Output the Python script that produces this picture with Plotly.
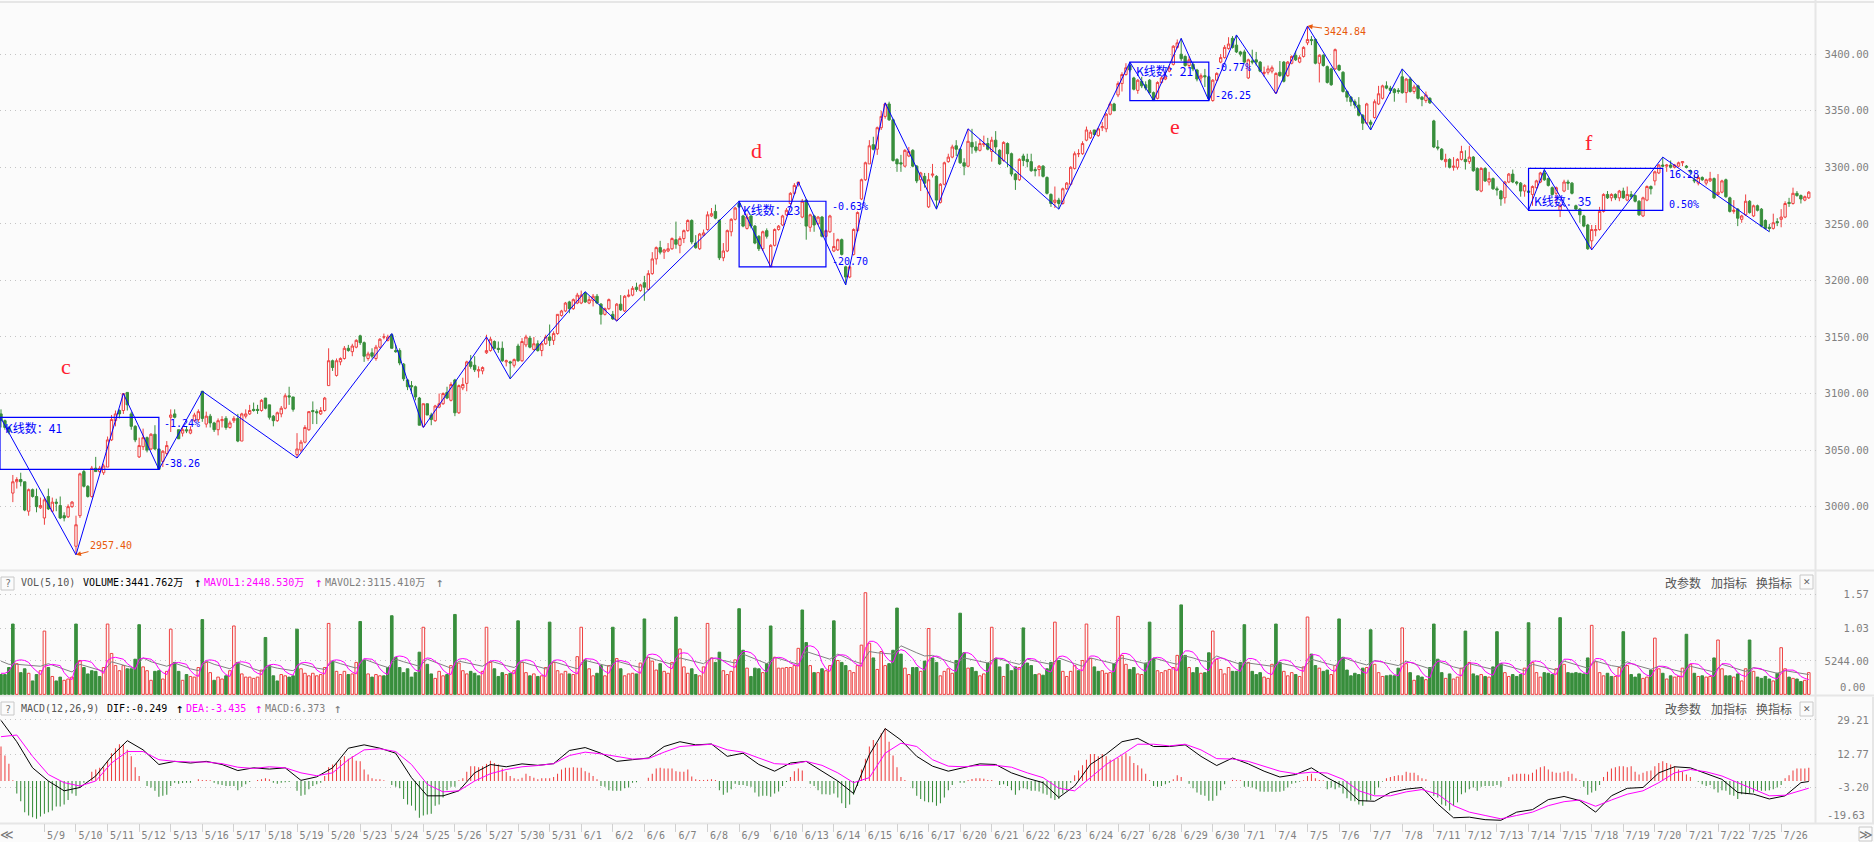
import plotly.graph_objects as go

W, H = 1874, 842
BG = "#fbfbfb"
RED = "#ee4040"
GREEN = "#388e3c"
BLUE = "#0000ff"
ORANGE = "#e8590c"
MONO = "DejaVu Sans Mono, Noto Sans CJK SC"
CJK = "Noto Sans CJK SC"

# first bar of each trading day falls on these labels
dates = ["5/9","5/10","5/11","5/12","5/13","5/16","5/17","5/18","5/19","5/20","5/23","5/24","5/25","5/26","5/27","5/30","5/31",
         "6/1","6/2","6/6","6/7","6/8","6/9","6/10","6/13","6/14","6/15","6/16","6/17","6/20","6/21","6/22","6/23","6/24","6/27","6/28","6/29","6/30",
         "7/1","7/4","7/5","7/6","7/7","7/8","7/11","7/12","7/13","7/14","7/15","7/18","7/19","7/20","7/21","7/22","7/25","7/26"]

opens = [3082,3076,3070,3012,3022,3024,3022,2996,3015,3009,
2999,2990,3009,2996,3004,3001,2992,2991,3000,2965,
2992,3031,3018,3009,3034,3031,3030,3035,3059,3076,
3085,3085,3101,3082,3071,3044,3053,3061,3051,3064,
3051,3040,3047,3079,3082,3068,3065,3068,3065,3076,
3077,3102,3073,3080,3074,3068,3076,3078,3070,3076,
3078,3058,3080,3082,3086,3086,3085,3096,3090,3080,
3076,3082,3087,3098,3097,3046,3050,3057,3068,3085,
3084,3082,3085,3107,3129,3116,3128,3131,3140,3137,
3141,3151,3145,3131,3136,3131,3141,3150,3147,3152,
3138,3138,3126,3112,3107,3106,3096,3071,3091,3081,
3076,3088,3091,3101,3094,3112,3083,3105,3109,3128,
3125,3120,3120,3136,3138,3146,3140,3140,3128,3128,
3125,3142,3129,3143,3149,3139,3144,3138,3144,3150,
3147,3153,3169,3173,3181,3175,3180,3180,3189,3180,
3182,3186,3179,3170,3175,3170,3165,3179,3173,3186,
3187,3194,3191,3198,3192,3206,3219,3229,3225,3226,
3228,3236,3231,3237,3244,3253,3233,3228,3240,3245,
3257,3261,3253,3220,3226,3243,3254,3268,3257,3246,
3257,3248,3239,3228,3244,3212,3231,3245,3249,3258,
3268,3277,3285,3256,3271,3247,3257,3250,3256,3239,
3243,3226,3227,3236,3212,3203,3223,3244,3272,3289,
3303,3320,3316,3335,3345,3356,3342,3307,3304,3301,
3310,3315,3301,3289,3292,3265,3293,3292,3269,3285,
3305,3309,3319,3316,3304,3301,3322,3318,3315,3320,
3321,3314,3324,3315,3306,3321,3312,3294,3289,3310,
3307,3305,3298,3298,3301,3291,3276,3269,3271,3268,
3281,3285,3299,3312,3312,3324,3326,3333,3328,3335,
3334,3347,3356,3364,3374,3382,3390,3379,3368,3376,
3373,3377,3366,3361,3375,3378,3385,3391,3406,3400,
3398,3390,3391,3386,3379,3381,3380,3359,3377,3393,
3397,3405,3414,3408,3402,3402,3379,3394,3395,3393,
3383,3384,3385,3366,3384,3393,3381,3392,3399,3393,
3398,3410,3413,3413,3392,3399,3389,3387,3387,3390,
3384,3367,3362,3358,3355,3346,3339,3340,3344,3356,
3361,3372,3370,3369,3368,3380,3366,3378,3367,3372,
3362,3359,3361,3341,3318,3316,3305,3307,3300,3300,
3307,3307,3305,3309,3299,3279,3299,3287,3290,3281,
3279,3273,3287,3294,3287,3286,3279,3279,3276,3282,
3287,3295,3290,3282,3277,3262,3279,3287,3286,3266,
3263,3257,3249,3235,3244,3245,3261,3276,3273,3276,
3273,3279,3271,3276,3275,3270,3257,3271,3283,3288,
3295,3302,3301,3302,3300,3301,3304,3301,3297,3289,
3286,3291,3286,3288,3290,3276,3278,3289,3273,3261,
3263,3254,3258,3270,3257,3266,3263,3253,3247,3246,
3252,3254,3256,3269,3268,3277,3275,3271,3273]

closes = [3076,3070,3066,3022,3024,3022,2997,3015,3009,3000,
3001,3006,2998,3004,3003,2990,2990,3000,3004,2984,
3029,3018,3009,3034,3031,3034,3036,3059,3077,3082,
3082,3100,3090,3071,3059,3054,3061,3050,3064,3051,
3033,3049,3054,3081,3079,3060,3068,3067,3068,3081,
3084,3078,3080,3074,3068,3076,3077,3070,3074,3078,
3058,3082,3082,3085,3085,3085,3094,3087,3079,3076,
3083,3087,3098,3097,3086,3051,3057,3070,3084,3084,
3083,3085,3096,3129,3123,3129,3131,3140,3138,3142,
3147,3145,3133,3135,3133,3141,3148,3150,3150,3140,
3137,3127,3113,3106,3106,3097,3072,3091,3081,3077,
3089,3091,3100,3096,3108,3083,3107,3108,3128,3124,
3121,3121,3123,3138,3148,3140,3139,3129,3129,3127,
3130,3129,3146,3150,3141,3144,3138,3144,3150,3147,
3153,3170,3173,3180,3175,3183,3187,3187,3181,3183,
3186,3180,3170,3175,3183,3166,3179,3174,3186,3187,
3193,3192,3196,3194,3206,3219,3229,3225,3227,3228,
3237,3232,3237,3244,3253,3234,3229,3241,3242,3258,
3259,3255,3220,3226,3244,3254,3264,3265,3248,3256,
3248,3233,3228,3243,3239,3231,3245,3248,3257,3262,
3277,3284,3287,3270,3248,3258,3249,3256,3239,3244,
3257,3230,3236,3223,3203,3212,3245,3260,3289,3304,
3319,3316,3335,3345,3356,3342,3306,3303,3303,3315,
3314,3301,3288,3295,3286,3289,3294,3271,3285,3304,
3309,3318,3316,3304,3301,3323,3318,3315,3321,3321,
3316,3324,3318,3303,3322,3312,3294,3289,3307,3306,
3305,3297,3297,3301,3292,3277,3268,3271,3268,3281,
3286,3300,3312,3312,3321,3333,3331,3329,3334,3336,
3347,3356,3350,3374,3382,3388,3386,3369,3377,3372,
3370,3366,3359,3375,3379,3380,3388,3407,3410,3396,
3390,3395,3387,3378,3381,3380,3361,3377,3383,3397,
3406,3409,3406,3402,3400,3393,3395,3393,3393,3385,
3384,3387,3388,3383,3381,3376,3393,3398,3395,3397,
3406,3413,3412,3392,3399,3390,3375,3373,3404,3386,
3367,3362,3358,3355,3346,3339,3356,3338,3358,3365,
3372,3370,3368,3366,3367,3366,3378,3367,3371,3361,
3360,3364,3357,3318,3317,3307,3307,3300,3301,3307,
3314,3305,3309,3297,3280,3299,3288,3290,3281,3280,
3272,3287,3294,3287,3286,3279,3284,3278,3283,3288,
3295,3289,3284,3276,3282,3266,3287,3286,3277,3263,
3258,3248,3228,3245,3245,3261,3276,3273,3276,3273,
3279,3273,3276,3274,3270,3258,3273,3283,3281,3296,
3302,3301,3302,3300,3302,3304,3305,3300,3296,3288,
3291,3289,3289,3290,3273,3278,3288,3274,3261,3262,
3255,3257,3270,3260,3266,3262,3248,3246,3246,3251,
3251,3256,3268,3268,3277,3275,3272,3274,3278]

highs = [3086,3077,3071,3028,3026,3030,3022,3016,3016,3016,
3008,3008,3016,3008,3007,3009,2995,3002,3005,2992,
3030,3033,3019,3036,3044,3036,3038,3062,3081,3085,
3086,3100,3101,3084,3072,3061,3069,3062,3065,3072,
3051,3050,3058,3086,3086,3068,3071,3071,3071,3083,
3086,3102,3084,3082,3075,3078,3080,3080,3076,3080,
3082,3083,3086,3090,3092,3090,3095,3096,3090,3081,
3084,3089,3100,3106,3097,3065,3059,3072,3084,3093,
3086,3088,3097,3140,3130,3131,3132,3142,3143,3144,
3148,3152,3146,3137,3140,3143,3149,3153,3152,3153,
3143,3140,3127,3113,3111,3107,3097,3091,3091,3083,
3090,3100,3101,3106,3110,3113,3108,3114,3129,3134,
3133,3124,3124,3152,3150,3147,3146,3146,3130,3129,
3131,3144,3149,3152,3151,3150,3147,3146,3152,3161,
3155,3170,3174,3181,3182,3184,3189,3191,3190,3186,
3188,3188,3180,3176,3184,3173,3180,3187,3187,3192,
3195,3198,3197,3204,3209,3225,3230,3235,3228,3233,
3238,3252,3239,3245,3254,3254,3240,3242,3245,3261,
3264,3267,3254,3233,3245,3255,3265,3270,3258,3259,
3258,3249,3240,3244,3246,3232,3246,3249,3258,3264,
3278,3286,3287,3272,3272,3259,3258,3257,3257,3245,
3258,3242,3237,3237,3213,3213,3246,3261,3290,3305,
3324,3327,3336,3350,3357,3358,3343,3308,3311,3316,
3318,3316,3302,3296,3295,3295,3303,3293,3286,3305,
3312,3320,3324,3317,3308,3334,3334,3323,3325,3328,
3326,3327,3332,3316,3323,3322,3313,3295,3308,3312,
3312,3312,3300,3302,3302,3292,3277,3283,3273,3282,
3287,3301,3314,3316,3323,3336,3333,3333,3335,3340,
3348,3358,3357,3376,3384,3392,3393,3380,3378,3380,
3376,3378,3367,3376,3381,3384,3390,3408,3413,3414,
3399,3398,3393,3387,3383,3387,3381,3378,3384,3400,
3408,3415,3416,3417,3403,3404,3396,3404,3402,3394,
3389,3390,3390,3384,3394,3394,3394,3399,3403,3399,
3407,3424.84,3416,3414,3400,3400,3390,3388,3405,3391,
3385,3368,3363,3360,3362,3347,3357,3342,3360,3372,
3373,3376,3372,3370,3370,3387,3379,3380,3373,3373,
3363,3367,3362,3342,3324,3317,3312,3308,3309,3308,
3319,3315,3319,3310,3300,3300,3300,3296,3291,3283,
3280,3288,3295,3298,3288,3287,3285,3289,3284,3289,
3296,3298,3291,3283,3283,3268,3289,3289,3287,3267,
3264,3258,3250,3249,3249,3265,3277,3279,3277,3277,
3280,3282,3283,3279,3276,3271,3274,3284,3284,3297,
3303,3309,3303,3306,3303,3305,3305,3302,3298,3293,
3293,3292,3290,3296,3291,3294,3289,3290,3274,3271,
3264,3258,3276,3271,3267,3267,3264,3254,3250,3259,
3255,3263,3270,3273,3282,3279,3276,3275,3279]

lows = [3070,3068,3064,3004,3016,3018,2996,2992,3008,2995,
2998,2984,2997,2995,2996,2989,2987,2990,2999,2957.4,
2990,3017,3008,3008,3031,3030,3028,3035,3058,3071,
3078,3082,3085,3068,3057,3043,3050,3048,3050,3050,
3033,3035,3045,3066,3078,3060,3062,3065,3064,3075,
3075,3075,3070,3070,3066,3063,3070,3068,3069,3074,
3057,3058,3078,3081,3084,3082,3084,3086,3077,3071,
3075,3079,3086,3090,3084,3043,3048,3056,3067,3073,
3073,3081,3084,3107,3120,3115,3125,3130,3137,3133,
3140,3143,3128,3129,3131,3129,3140,3148,3146,3140,
3136,3125,3111,3103,3100,3094,3072,3070,3081,3072,
3075,3087,3090,3095,3093,3080,3082,3103,3102,3122,
3119,3114,3117,3135,3137,3139,3136,3128,3124,3113,
3123,3128,3128,3141,3140,3138,3137,3133,3143,3142,
3143,3152,3168,3172,3171,3174,3179,3179,3180,3179,
3177,3179,3161,3169,3174,3165,3164,3173,3172,3185,
3186,3190,3190,3182,3191,3205,3214,3223,3219,3225,
3227,3228,3224,3233,3243,3232,3228,3227,3239,3244,
3256,3254,3218,3217,3225,3239,3253,3264,3247,3245,
3246,3232,3226,3226,3237,3212,3230,3244,3248,3257,
3267,3276,3283,3255,3236,3243,3243,3249,3238,3238,
3242,3225,3226,3222,3196,3202,3222,3243,3271,3288,
3303,3315,3311,3333,3343,3341,3305,3296,3296,3300,
3309,3300,3286,3279,3282,3264,3291,3263,3268,3284,
3304,3308,3310,3303,3293,3300,3312,3313,3314,3318,
3315,3305,3312,3302,3305,3300,3292,3280,3288,3301,
3300,3296,3292,3292,3291,3276,3265,3264,3263,3267,
3280,3284,3298,3309,3311,3323,3325,3328,3327,3332,
3331,3346,3350,3362,3367,3381,3384,3368,3365,3370,
3368,3365,3359,3360,3374,3377,3384,3390,3405,3394,
3389,3388,3385,3376,3375,3371,3359,3358,3376,3392,
3396,3404,3405,3401,3398,3392,3378,3391,3390,3384,
3380,3382,3383,3365,3380,3375,3380,3391,3394,3392,
3397,3408,3408,3391,3375,3389,3374,3372,3386,3385,
3366,3358,3354,3352,3345,3333,3338,3333,3343,3355,
3360,3369,3365,3358,3365,3365,3357,3366,3365,3360,
3354,3357,3356,3317,3315,3306,3300,3299,3297,3298,
3306,3298,3303,3296,3279,3278,3287,3284,3280,3275,
3266,3268,3286,3286,3284,3274,3274,3264,3266,3281,
3286,3288,3283,3275,3268,3256,3278,3280,3276,3262,
3251,3247,3227,3227,3239,3244,3260,3272,3270,3271,
3270,3272,3270,3272,3269,3257,3256,3270,3276,3284,
3294,3300,3296,3299,3299,3300,3301,3299,3294,3286,
3284,3288,3284,3287,3272,3275,3277,3273,3260,3259,
3248,3251,3257,3259,3256,3261,3247,3245,3243,3245,
3248,3247,3255,3265,3267,3274,3268,3270,3272]

# zigzag pivots: bar number and price
zig_bars = [0,19,31,40,51,75,99,107,123,129,148,156,187,195,202,214,224,237,245,268,286,292,299,306,313,323,331,347,355,387,391,403,421,448]
zig_prices = [3078,2957.4,3100,3033,3102,3043,3153,3070,3150,3113,3190,3164,3270,3212,3287,3196,3357,3263,3334,3263,3393,3359,3414,3359,3417,3365,3424.84,3333,3387,3262,3298,3227,3309,3243]

# consolidation boxes: first bar, last bar, top, bottom
box_first = [-0.25,187,286,387]
box_last = [40,209,306,421]
box_top = [3079,3270,3393,3299]
box_bottom = [3033,3212,3359,3262]

# volume, in millions (1.57 = 157 on this list's scale)
volume = [31,31,42,
110,48,34,40,33,21,31,37, 99,42,28,21,27,22,24,27, 110,53,42,32,37,36,28,42, 110,64,45,37,45,40,40,55,
109,43,37,22,36,37,24,36, 102,50,36,22,31,28,27,42, 117,50,34,22,27,24,29,37, 107,50,32,27,27,25,27,38,
89,45,29,21,31,29,27,29, 102,40,33,29,33,29,31,42, 111,52,36,31,36,31,32,50, 114,53,32,27,31,29,29,42,
123,58,42,34,40,27,34,66, 105,47,32,25,36,29,31,45, 125,49,37,32,36,33,29,36, 105,50,40,28,34,31,33,37,
115,50,34,29,32,28,29,42, 113,50,37,32,36,32,31,59, 105,54,40,29,33,45,29,45, 105,56,40,29,32,33,32,49,
118,58,52,38,48,36,33,50, 121,71,43,33,40,31,29,43, 111,57,50,66,37,31,36,54, 134,69,41,28,41,40,34,48,
107,58,41,41,42,42,45,72, 132,81,45,34,34,40,37,45, 115,53,50,45,37,34,45,77, 159,80,57,39,67,45,48,69,
135,63,41,31,42,42,36,52, 103,57,50,29,36,40,33,53, 127,65,41,42,36,29,32,49, 105,56,43,28,47,37,43,42,
104,49,45,31,32,30,40,50, 113,53,36,28,36,45,37,53, 110,56,43,36,37,33,34,48, 122,61,47,39,42,32,31,49,
113,56,37,34,37,39,42,61, 140,61,42,34,42,33,34,65, 99,55,39,32,42,36,36,50, 109,50,36,31,34,27,25,47,
110,50,36,29,34,31,28,43, 121,63,45,41,36,38,31,45, 118,58,38,29,33,31,41,42, 101,47,34,28,29,30,29,41,
104,48,34,22,29,27,23,42, 110,55,34,25,32,24,27,41, 99,50,32,29,31,28,27,43, 98,48,34,28,31,28,31,41,
112,50,34,27,34,33,31,40, 120,47,34,33,34,33,32,57, 108,51,34,29,33,28,28,42, 98,45,31,27,32,25,27,38,
88,40,33,24,29,27,28,41, 94,47,33,28,29,27,28,57, 85,40,29,29,27,32,21,40, 85,36,27,25,28,24,21,33,
73,40,27,25,24,20,22,34]

volume_dir = ("GGG"
"GRGGRGGR" "RGRGGRRR" "GRGGGGGR" "RRRRRGGG" "GRRRGGRR" "RGGRGRRR" "GRRGRRGR" "RGRRRRRR"
"GGGGRRGG" "GRRRRRRR" "RGRRRGRR" "GGRGRRGG" "GGGGGGGG" "RGGRRRGR" "GRRRGGGR" "RRGGGRGR"
"GRRGRGRR" "GRRRRGRR" "RGRRGGRR" "GRGRRRGR" "GRRRGRRR" "GRRRGGRR" "RRGGRRRR" "GGRGGGRG"
"GRRRRRRR" "GGRGRGRR" "GRGGRRRR" "RRGRRRGG" "GGRRGGRG" "RGGRRRRG" "GGRGGRRG" "RGGRGGGR"
"GGGGRGGG" "RGRRRRGR" "RRGGRRRG" "RRRGGRRG" "GGRRRRRR" "GGRGGRGG" "RRRRRGGG" "GRGGGRRR"
"GGRRRGRR" "RGGRGGRR" "GGGGGGGR" "GRRRGGGG" "RRGRGGRG" "GGGRGRRR" "GRGGRGRG" "GGRRGGGR"
"GRRRGGGR" "GRGGGGGG" "RRRRGGRR" "GRGGGRRG" "RRGRGRRR" "GRGRGRRG" "RRGGRGRR" "GRGGGGRG"
"RRGRGGRR")

mavol1 = [33,33,36,
47,53,54,53,50,42,36,31, 44,46,47,46,45,34,27,23, 47,52,53,52,50,42,37,33, 53,57,58,57,55,48,43,39,
55,57,56,55,50,40,34,31, 46,49,50,49,47,37,31,28, 48,53,54,53,50,37,31,28, 46,50,51,50,48,37,33,31,
43,46,47,46,44,36,32,30, 45,49,50,49,47,38,34,32, 48,53,54,53,50,40,35,32, 50,56,56,55,50,40,34,31,
52,59,60,59,56,45,38,36, 54,57,56,52,47,38,33,31, 50,55,56,55,51,40,35,32, 48,52,53,52,49,40,35,32,
49,53,54,53,50,38,31,28, 46,53,54,53,50,40,35,32, 49,56,56,55,52,42,36,33, 46,52,53,52,50,41,36,33,
52,62,63,62,58,49,43,40, 57,64,65,64,58,46,37,33, 50,56,57,56,52,47,44,42, 60,67,67,65,60,47,39,35,
50,57,58,57,54,49,46,44, 62,75,76,74,68,50,40,36, 55,61,62,61,57,50,46,44, 72,83,83,80,72,60,53,50,
66,70,68,62,56,46,41,38, 54,59,60,58,52,43,38,36, 56,65,65,62,55,44,38,35, 50,57,57,56,52,45,41,39,
47,56,56,55,50,42,37,35, 50,59,60,58,53,44,39,37, 52,60,60,58,52,43,37,35, 55,64,64,62,56,45,39,36,
52,57,58,57,53,45,40,37, 60,68,68,66,59,47,40,37, 50,56,57,56,52,44,39,36, 50,56,56,54,48,38,33,31,
45,53,54,53,50,42,38,36, 55,62,62,60,54,44,38,36, 52,57,57,56,50,41,35,33, 47,52,52,51,46,37,31,29,
44,50,50,49,44,34,28,26, 44,52,52,51,46,37,31,29, 44,49,49,48,44,36,32,30, 44,49,49,48,45,37,33,31,
45,52,52,51,47,38,33,31, 47,55,55,54,49,39,34,32, 48,56,56,54,47,36,30,28, 42,48,48,47,42,34,30,28,
38,44,44,43,40,32,29,27, 40,48,48,47,42,34,30,28, 40,48,48,47,42,34,30,28, 35,41,41,40,36,29,26,24,
33,38,38,38,35,28,25,23]

# read every second bar
mavol2 = [52,47,
47,46,45,44, 48,44,39,35, 47,43,39,36, 51,47,44,41, 57,51,47,44, 49,44,40,37, 52,47,43,40, 49,44,40,36,
44,41,39,37, 48,44,41,39, 52,48,44,41, 55,50,46,42, 55,51,47,44, 55,50,45,41, 52,49,46,44, 52,48,45,42,
51,47,43,40, 51,47,43,40, 53,50,47,44, 52,48,45,42, 58,54,50,47, 57,54,51,48, 57,54,52,49, 63,58,53,48,
58,54,50,47, 67,63,59,55, 63,57,52,48, 67,65,64,63, 76,70,65,60, 61,56,52,48, 57,54,52,49, 57,53,50,47,
55,52,49,47, 57,52,48,44, 57,54,51,48, 57,54,51,48, 57,53,50,47, 60,57,53,51, 60,55,51,47, 49,47,45,44,
49,46,43,41, 55,51,48,45, 58,53,49,46, 53,50,47,45, 52,48,44,40, 52,47,43,40, 48,45,42,39, 47,44,40,37,
47,44,41,38, 52,48,44,41, 52,48,45,43, 51,46,42,39, 44,41,38,35, 44,41,38,35, 47,43,39,36, 42,39,36,33,
37,35,33,31]

macd_hist = [16.5,12.2,8.2,
0.3,-6.0,-9.7,-14.9,-16.5,-17.3,-18.1,-17.0, -15.7,-14.9,-14.1,-12.2,-12.2,-11.3,-9.1,-6.0,
-7.1,-3.1,-0.8,0,4.4,5.5,6.3,6.6, 9.7,13.3,15.7,17.6,17.6,14.9,11.8,6.6,
2.4,0,-2.4,-3.1,-4.7,-7.5,-7.1,-6.6, -2.4,-0.8,-1.3,-0.9,-0.8,-0.8,0,0.8,
0.5,0.5,0.3,-0.8,-1.6,-1.9,-2.4,-2.4, -2.4,-4.4,-2.8,-1.6,-0.5,0,0.5,0.8,
1.3,0.8,-0.8,-1.3,-0.8,-0.6,-0.5,0, -4.7,-7.1,-6.6,-3.9,-2.4,-1.6,-0.8,2.4,
6.6,7.9,8.6,10.2,11.8,10.7,11.8,9.7, 9.4,5.5,3.1,1.3,0.8,0.8,0.3,0,
-1.9,-2.8,-3.5,-8.6,-11.3,-11.8,-14.1,-17.6, -16.5,-16.0,-15.7,-11.8,-11.3,-7.9,-4.4,-2.8,
-2.8,0.3,1.3,4.4,7.1,7.1,6.6,7.1, 8.2,9.7,8.6,7.9,6.0,4.4,2.4,1.3,
0.8,1.6,3.5,2.4,1.6,0.8,1.3,1.3, 1.3,1.9,3.5,5.5,6.3,6.3,6.6,6.3,
6.3,4.7,3.9,2.4,0.8,-2.4,-2.8,-4.4, -4.7,-4.7,-4.7,-3.5,-3.1,-0.8,-0.6,0,
0,1.6,3.5,6.0,6.3,6.0,6.0,6.0, 4.7,4.4,4.4,5.5,2.2,0.8,0.5,0.5,
0.6,0.8,0.5,-4.4,-6.6,-5.5,-3.9,-1.3, -1.9,-1.9,-2.4,-2.8,-5.5,-7.4,-7.1,-7.1,
-7.5,-6.0,-5.0,-2.4,-0.5,1.9,4.7,6.0, 5.0,0,-1.3,-2.4,-4.4,-6.3,-6.3,-6.6,
-6.0,-7.9,-10.7,-12.9,-11.3,-6.6,-2.4,5.5, 10.7,16.5,19.6,18.1,22.8,25.1,18.8,12.2,
6.6,1.9,0.5,0,-3.5,-7.1,-8.6,-9.7, -10.2,-10.2,-11.8,-10.7,-7.9,-4.4,-1.9,0,
-0.8,-0.8,0.5,0.9,1.3,1.3,1.1,0.5, 0.5,0,-1.9,-1.6,-2.4,-4.4,-6.6,-4.4,
-3.5,-3.9,-4.7,-4.7,-5.0,-6.0,-6.6,-8.2, -9.1,-8.6,-6.0,-4.7,-0.8,2.8,5.0,7.5,
10.2,12.9,12.9,11.8,12.9,11.8,10.2,10.2, 11.0,12.2,13.3,11.8,8.6,7.5,6.0,3.5,
0.5,-2.4,-2.8,-2.4,-1.6,-0.8,0.8,2.8, 1.9,0,-1.3,-3.5,-5.5,-6.6,-7.1,-9.4,
-9.4,-7.1,-4.4,-1.6,0,0.5,0.3,0.3, -2.8,-2.8,-3.1,-3.9,-5.0,-5.2,-5.2,-5.2,
-5.2,-5.2,-4.7,-3.1,-1.3,-0.8,-0.3,0.3, 2.4,3.5,1.3,0.5,0.3,-3.9,-3.1,-3.9,
-3.1,-6.0,-8.2,-9.4,-9.7,-11.3,-11.8,-9.7, -9.1,-6.6,-3.1,-0.3,1.3,1.9,2.4,2.8,
2.8,4.4,3.9,3.9,2.8,1.3,0.8,0, -7.1,-7.9,-11.3,-11.8,-14.1,-11.8,-10.2,-6.3,
-5.5,-3.9,-3.1,-4.7,-2.8,-2.4,-2.4,-2.4, -1.9,-2.8,0,1.9,3.1,3.5,3.5,3.5,
3.1,3.9,5.5,6.6,7.1,5.5,4.4,3.9, 3.9,4.4,4.7,3.5,1.3,0.5,-2.8,-6.6,
-5.5,-4.7,-1.9,1.9,4.4,6.0,6.6,7.1, 7.1,6.6,7.1,4.4,3.1,3.9,4.7,5.0,
7.1,8.6,9.4,8.6,7.9,7.1,5.5,4.4, 3.1,1.9,0,-0.3,-1.6,-2.4,-1.9,-3.9,
-5.5,-4.4,-4.7,-6.6,-7.1,-8.6,-6.3,-6.3, -6.0,-5.5,-4.7,-4.7,-4.7,-4.4,-3.9,-3.1,
-1.9,1.3,2.8,5.0,6.0,6.0,6.0,6.3]

# read every fourth bar, plus the last bar
dif = [29.0,18.8,6.3,0,-4.7,-3.1,2.4,11.8,19.3,14.9,7.9,9.4,8.6,9.4,7.9,5.0,6.3,5.7,6.3,0.3,2.0,6.3,15.7,17.3,15.7,13.3,1.6,-7.1,-7.1,-4.7,3.9,7.9,
6.8,8.2,7.5,8.3,14.6,16.0,13.3,9.4,10.2,11.0,16.5,18.8,17.3,17.7,11.8,13.3,7.9,4.7,8.6,9.4,4.7,0,-6.0,12.6,25.1,19.6,11.8,7.1,4.7,6.3,8.2,7.9,
3.9,1.3,-0.8,-7.9,-2.4,7.9,12.9,18.8,20.4,16.5,16.5,17.3,11.8,7.4,11.0,8.2,4.7,1.9,3.1,6.3,1.6,-2.4,-9.4,-9.7,-5.5,-3.9,-3.1,-11.0,-17.6,-17.3,-18.5,
-18.8,-14.9,-13.7,-8.9,-7.4,-9.4,-14.9,-7.1,-3.5,-3.1,3.9,6.8,6.3,3.6,0.8,-5.5,-6.3,-8.6,-7.1,-0.8,-0.249]
dea = [21.2,22.0,11.8,3.1,-0.8,-2.4,0,8.6,14.1,14.1,10.2,9.4,9.1,9.1,8.3,6.6,6.0,6.8,6.3,3.9,2.5,3.9,10.2,14.9,15.4,14.1,7.9,-1.6,-5.2,-4.7,0,3.5,
5.5,6.8,7.4,8.3,12.2,13.8,13.0,11.8,10.5,10.7,13.8,16.5,17.0,17.6,14.9,13.8,11.0,8.3,7.9,9.4,7.5,3.9,-0.8,1.6,13.3,18.1,16.5,10.2,7.1,6.8,7.5,7.5,
6.6,3.9,1.6,-3.5,-4.7,1.6,7.9,12.6,17.6,17.6,16.8,17.6,14.9,10.7,10.5,9.4,7.1,4.7,3.5,4.2,3.8,0.8,-4.7,-7.1,-7.1,-5.2,-4.1,-6.3,-11.8,-14.9,-16.5,
-18.1,-16.5,-14.9,-11.8,-9.9,-9.1,-12.1,-9.1,-6.3,-4.7,-0.8,3.9,5.5,4.4,2.4,-0.8,-3.9,-7.1,-6.8,-4.7,-3.435]

n_bars = len(opens)
for series in (closes, highs, lows, volume, mavol1, macd_hist):
    assert len(series) == n_bars, len(series)
assert len(volume_dir) == n_bars and len(mavol2) == 230 and len(dif) == 116 and len(dea) == 116

bars = list(range(n_bars))
first_of_day = [11 + 8 * k for k in range(len(dates))]
label_pos = [b + (2.5 + 3 * len(d)) / 3.948 for b, d in zip(first_of_day, dates)]
every2 = bars[::2]
every4 = bars[::4] + [bars[-1]]

fig = go.Figure()
fig.add_trace(go.Candlestick(x=bars, open=opens, high=highs, low=lows, close=closes, xaxis="x", yaxis="y",
    whiskerwidth=0, hoverinfo="skip",
    increasing=dict(line=dict(color=RED, width=1), fillcolor=BG),
    decreasing=dict(line=dict(color=GREEN, width=1), fillcolor=GREEN)))
fig.add_trace(go.Scatter(x=zig_bars, y=zig_prices, mode="lines", line=dict(color=BLUE, width=1), yaxis="y", hoverinfo="skip"))

fig.add_trace(go.Bar(x=bars, y=volume, width=0.66, yaxis="y2", hoverinfo="skip",
    marker=dict(color=[GREEN if d == "G" else BG for d in volume_dir],
                line=dict(color=[GREEN if d == "G" else RED for d in volume_dir], width=1))))
fig.add_trace(go.Scatter(x=every2, y=mavol2, mode="lines", line=dict(color="#808080", width=1), yaxis="y2", hoverinfo="skip"))
fig.add_trace(go.Scatter(x=bars, y=mavol1, mode="lines", line=dict(color="#ff00ff", width=1), yaxis="y2", hoverinfo="skip"))

hist_colors = [RED if v >= 0 else GREEN for v in macd_hist]
fig.add_trace(go.Bar(x=bars, y=macd_hist, width=0.26, yaxis="y3", hoverinfo="skip",
    marker=dict(color=hist_colors, line=dict(color=hist_colors, width=0.02))))
fig.add_trace(go.Scatter(x=every4, y=dif, mode="lines", line=dict(color="#000000", width=1), yaxis="y3", hoverinfo="skip"))
fig.add_trace(go.Scatter(x=every4, y=dea, mode="lines", line=dict(color="#ff00ff", width=1), yaxis="y3", hoverinfo="skip"))


def px(x):
    return x / W


def py(y):
    return 1 - y / H


def label(x, y, text, color="#000000", size=10, family=MONO, anchor="left"):
    return dict(x=px(x), y=py(y), xref="paper", yref="paper", text=text, showarrow=False, xanchor=anchor, yanchor="middle",
                font=dict(color=color, size=size, family=family))


def axis_text(values):
    return ["\u00a0" * (7 - len(v)) + v if v else "" for v in values]


notes = [
    label(66, 366, "c", "#ff2030", 22, "Liberation Serif", "center"),
    label(756, 150, "d", "#ff2030", 22, "Liberation Serif", "center"),
    label(1175, 127, "e", "#ff2030", 22, "Liberation Serif", "center"),
    label(1589, 142, "f", "#ff2030", 22, "Liberation Serif", "center"),
    label(3, 427, "K线数：41", BLUE, 12, CJK), label(162, 423, "-1.24%", BLUE), label(162, 463, "-38.26", BLUE),
    label(741, 210, "K线数：23", BLUE, 12, CJK), label(830, 206, "-0.63%", BLUE), label(830, 261, "-20.70", BLUE),
    label(1134, 71, "K线数：21", BLUE, 12, CJK), label(1213, 67, "-0.77%", BLUE), label(1213, 95, "-26.25", BLUE),
    label(1532, 200, "K线数：35", BLUE, 12, CJK), label(1667, 174, "16.28", BLUE), label(1667, 204, "0.50%", BLUE),
    dict(x=19, y=2957.4, xref="x", yref="y", text="2957.40", showarrow=True, ax=35, ay=-9, arrowcolor=ORANGE, arrowhead=2,
         arrowsize=1, arrowwidth=1, font=dict(color=ORANGE, size=10, family=MONO)),
    dict(x=331, y=3424.84, xref="x", yref="y", text="3424.84", showarrow=True, ax=37, ay=5, arrowcolor=ORANGE, arrowhead=2,
         arrowsize=1, arrowwidth=1, font=dict(color=ORANGE, size=10, family=MONO)),
    label(19, 582, "VOL(5,10)", "#555555"), label(81, 582, "VOLUME:3441.762万", "#000000"), label(192, 582, "↑", "#000000", 13),
    label(202, 582, "MAVOL1:2448.530万", "#ff00ff"), label(313, 582, "↑", "#ff00ff", 13),
    label(323, 582, "MAVOL2:3115.410万", "#808080"), label(434, 582, "↑", "#808080", 13),
    label(19, 708, "MACD(12,26,9)", "#555555"), label(105, 708, "DIF:-0.249", "#000000"), label(174, 708, "↑", "#000000", 13),
    label(184, 708, "DEA:-3.435", "#ff00ff"), label(253, 708, "↑", "#ff00ff", 13),
    label(263, 708, "MACD:6.373", "#808080"), label(332, 708, "↑", "#808080", 13),
    label(7.5, 583, "?", "#777777", 10, MONO, "center"), label(7.5, 709, "?", "#777777", 10, MONO, "center"),
    label(1806.5, 582, "✕", "#666666", 9, "DejaVu Sans", "center"), label(1806.5, 709, "✕", "#666666", 9, "DejaVu Sans", "center"),
    label(7, 834, "≪", "#777777", 13, "DejaVu Sans", "center"), label(1865.5, 834, "≫", "#777777", 13, "DejaVu Sans", "center"),
    label(1867, 687, "0.00", "#808080", 10.5, "DejaVu Sans Mono", "right"),
    label(1867, 815, "-19.63", "#808080", 10.5, "DejaVu Sans Mono", "right"),
]
for row_y in (582, 708):
    notes += [label(1663, row_y, "改参数", "#555555", 12, CJK), label(1709, row_y, "加指标", "#555555", 12, CJK),
              label(1754, row_y, "换指标", "#555555", 12, CJK)]


def frame(x0, y0, x1, y1, color="#c8c8c8", width=1):
    return dict(type="rect", xref="paper", yref="paper", x0=px(x0), x1=px(x1), y0=py(y0), y1=py(y1),
                line=dict(color=color, width=width), layer="above")


def rule(x0, y0, x1, y1, width=1):
    return dict(type="line", xref="paper", yref="paper", x0=px(x0), x1=px(x1), y0=py(y0), y1=py(y1),
                line=dict(color="#e6e6e6", width=width), layer="below")


shapes = [dict(type="rect", xref="x", yref="y", x0=a, x1=b, y0=c, y1=d, line=dict(color=BLUE, width=1.2), fillcolor="rgba(0,0,0,0)", layer="above")
          for a, b, c, d in zip(box_first, box_last, box_top, box_bottom)]
shapes += [rule(0, 2, W, 2, 2), rule(0, 570.5, W, 570.5, 2), rule(0, 695.5, W, 695.5, 2), rule(0, 823.5, W, 823.5, 2),
           rule(1815.5, 0, 1815.5, 823, 2), rule(1873, 697, 1873, 823, 2),
           frame(1, 577, 14, 590), frame(1, 702, 14, 715), frame(1800, 575, 1813, 589), frame(1800, 702, 1813, 716),
           frame(1859, 827, 1872, 841)]

grid = dict(showgrid=True, gridcolor="#c4c4c4", griddash="1px,4px", gridwidth=1, zeroline=False, showline=False, side="right", anchor="x",
            ticks="outside", ticklen=6, tickcolor="rgba(0,0,0,0)", fixedrange=True, automargin=False,
            tickfont=dict(color="#808080", size=10.5, family="DejaVu Sans Mono"))

price_ticks = [3000, 3050, 3100, 3150, 3200, 3250, 3300, 3350, 3400]
fig.update_layout(
    width=W, height=H, autosize=False, margin=dict(l=0, r=0, t=0, b=0), paper_bgcolor=BG, plot_bgcolor=BG,
    showlegend=False, barmode="overlay", boxgap=0.15, dragmode=False, annotations=notes, shapes=shapes,
    xaxis=dict(domain=[0, 1815.5 / W], range=[-0.253, 459.7], anchor="y3", rangeslider=dict(visible=False), showgrid=False, automargin=False,
               zeroline=False, showline=False, tickmode="array", tickvals=label_pos, ticktext=dates, ticks="", ticklabelstandoff=5,
               tickfont=dict(color="#808080", size=10, family="DejaVu Sans Mono"), tickangle=0, fixedrange=True,
               minor=dict(tickmode="array", tickvals=first_of_day, ticks="outside", ticklen=8, tickcolor="#d0d0d0", showgrid=False)),
    yaxis=dict(grid, domain=[py(570), py(0)], range=[2944, 3447.9], tickmode="array", tickvals=price_ticks,
               ticktext=axis_text([f"{t}.00" for t in price_ticks])),
    yaxis2=dict(grid, domain=[py(695), py(571)], range=[-1, 193], tickmode="array", tickvals=[0, 52.44, 103, 157],
                ticktext=axis_text(["", "5244.00", "1.03", "1.57"])),
    yaxis3=dict(grid, domain=[py(823), py(697)], range=[-20.1, 40.2], tickmode="array", tickvals=[-19.63, -3.20, 12.77, 29.21],
                ticktext=axis_text(["", "-3.20", "12.77", "29.21"])),
)
fig.write_html("out.html", config=dict(displayModeBar=False, responsive=False),
               post_script="document.body.style.margin='0';document.documentElement.style.overflow='hidden';document.documentElement.style.background='#fbfbfb';")
